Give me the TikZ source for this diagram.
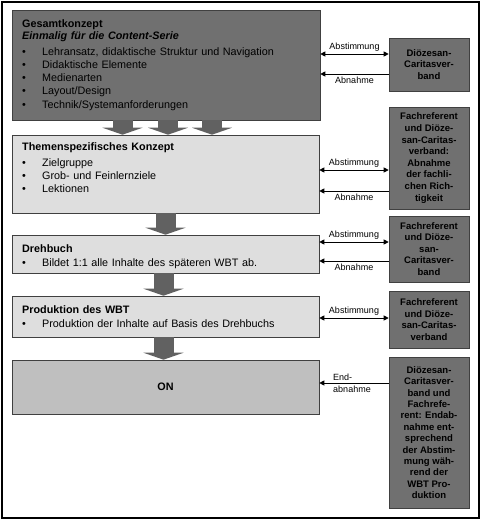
\documentclass[tikz,border=0pt]{standalone}
\usepackage{fontspec}
\setmainfont{Liberation Sans}
\usetikzlibrary{arrows.meta,calc}
\newcommand{\bul}[1]{\makebox[20pt][l]{\textbullet}#1}

\begin{document}
\begin{tikzpicture}[x=1pt,y=-1pt,
   >={Triangle[length=5pt,width=5pt]},
   phase/.style={draw=black!75,line width=0.6pt,fill=black!13,minimum width=307pt,inner sep=0pt},
   concept/.style={phase,fill=black!56},
   final/.style={phase,fill=black!25,font=\fontsize{10.8}{13}\selectfont\bfseries},
   partner/.style={draw=black!75,line width=0.6pt,fill=black!56,minimum width=80pt,inner sep=0pt,align=center,font=\fontsize{9.5}{11.6}\selectfont\bfseries},
   body/.style={anchor=base west,text width=290pt,align=left,inner sep=0pt,font=\fontsize{10.8}{13.3}\selectfont},
   flow/.style={line width=20pt,draw=black!62,-{Triangle[length=7pt,width=40pt]}},
   conn/.style={line width=0.8pt},
   lbl/.style={font=\fontsize{9}{12}\selectfont,inner sep=2.5pt}]
  \useasboundingbox (0,0) rectangle (481,520);
  \draw[line width=1.3pt] (2,2) rectangle (479,518);
  % phases on the left
  \node[concept,minimum width=308pt,minimum height=110pt] (gesamt) at (166,65) {};
  \node[phase,minimum height=78pt] (thema) at (165.5,174) {};
  \node[phase,minimum height=38pt] (dreh) at (165.5,254) {};
  \node[phase,minimum height=41pt] (prod) at (165.5,316.5) {};
  \node[final,minimum height=54pt] (on) at (165.5,387) {ON};
  % texts of the phases
  \node[body] (gtext) at (22,27) {\textbf{Gesamtkonzept}\\[-1.3pt]
    \textbf{\textit{Einmalig für die Content-Serie}}\\[2.7pt]
    \bul{Lehransatz, didaktische Struktur und Navigation}\\
    \bul{Didaktische Elemente}\\
    \bul{Medienarten}\\
    \bul{Layout/Design}\\
    \bul{Technik/Systemanforderungen}};
  \node[body] (ttext) at (22,150) {\textbf{Themenspezifisches Konzept}\\[2.7pt]
    \bul{Zielgruppe}\\[-0.3pt]
    \bul{Grob- und Feinlernziele}\\[-0.3pt]
    \bul{Lektionen}};
  \node[body] (dtext) at (22,252) {\textbf{Drehbuch}\\[0.7pt]
    \bul{Bildet 1:1 alle Inhalte des späteren WBT ab.}};
  \node[body] (ptext) at (22,313) {\textbf{Produktion des WBT}\\[0.7pt]
    \bul{Produktion der Inhalte auf Basis des Drehbuchs}};
  % partners on the right
  \node[partner,minimum height=53pt] (dc) at (429,64.5) {Diözesan-\\Caritasver-\\band};
  \node[partner,minimum height=102pt] (fd1) at (429,158) {Fachreferent\\und Diöze-\\san-Caritas-\\verband:\\Abnahme\\der fachli-\\chen Rich-\\tigkeit};
  \node[partner,minimum height=66pt] (fd2) at (429,249) {Fachreferent\\und Diöze-\\san-\\Caritasver-\\band};
  \node[partner,minimum height=57pt] (fd3) at (429,319.5) {Fachreferent\\und Diöze-\\san-Caritas-\\verband};
  \node[partner,minimum height=151pt,font=\fontsize{9.5}{11.4}\selectfont\bfseries] (dcf) at (429,432.5) {Diözesan-\\Caritasver-\\band und\\Fachrefe-\\rent: Endab-\\nahme ent-\\sprechend\\der Abstim-\\mung wäh-\\rend der\\WBT Pro-\\duktion};
  % block arrows between the phases
  \draw[flow] ([xshift=-43.5pt]gesamt.south) -- ([xshift=-43.5pt]gesamt.south |- thema.north);
  \draw[flow] ([xshift=2pt]gesamt.south) -- ([xshift=2pt]gesamt.south |- thema.north);
  \draw[flow] ([xshift=46pt]gesamt.south) -- ([xshift=46pt]gesamt.south |- thema.north);
  \draw[flow] (thema.south) -- (dreh.north);
  \draw[flow] ([xshift=-2pt]dreh.south) -- ([xshift=-2pt]prod.north);
  \draw[flow] ([xshift=-2pt]prod.south) -- ([xshift=-2pt]on.north);
  % Abstimmung and Abnahme
  \draw[conn,<->] ([yshift=11pt]gesamt.east) -- node[lbl,above] (a1) {Abstimmung} ([yshift=11pt]gesamt.east -| dc.west);
  \draw[conn,<-] ([yshift=-9pt]gesamt.east) -- node[lbl,below] (n1) {Abnahme} ([yshift=-9pt]gesamt.east -| dc.west);
  \draw[conn,<->] ([yshift=4pt]thema.east) -- node[lbl,above] (a2) {Abstimmung} ([yshift=4pt]thema.east -| fd1.west);
  \draw[conn,<-] ([yshift=-17pt]thema.east) -- node[lbl,below] (n2) {Abnahme} ([yshift=-17pt]thema.east -| fd1.west);
  \draw[conn,<->] ([yshift=12pt]dreh.east) -- node[lbl,above] (a3) {Abstimmung} ([yshift=12pt]dreh.east -| fd2.west);
  \draw[conn,<-] ([yshift=-7pt]dreh.east) -- node[lbl,below] (n3) {Abnahme} ([yshift=-7pt]dreh.east -| fd2.west);
  \draw[conn,<->] ([yshift=-1.5pt]prod.east) -- node[lbl,above] (a4) {Abstimmung} ([yshift=-1.5pt]prod.east -| fd3.west);
  % Endabnahme
  \draw[conn,->] ([yshift=4pt]on.east -| dcf.west) -- node[lbl,align=left,xshift=-2pt] (n5) {End-\\abnahme} ([yshift=4pt]on.east);
\end{tikzpicture}
\end{document}
